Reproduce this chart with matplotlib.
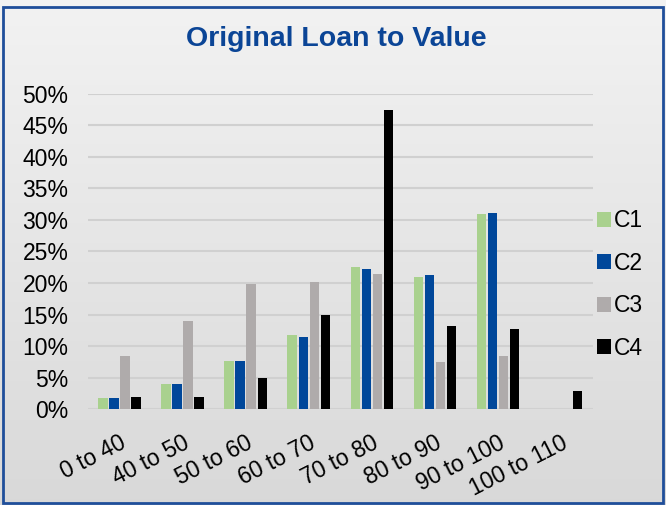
import numpy as np
import matplotlib.pyplot as plt
from matplotlib.patches import Rectangle
from matplotlib.ticker import PercentFormatter

plt.rcParams['font.family'] = ['Liberation Sans', 'DejaVu Sans']

categories = ["0 to 40", "40 to 50", "50 to 60", "60 to 70",
              "70 to 80", "80 to 90", "90 to 100", "100 to 110"]
series = ["C1", "C2", "C3", "C4"]
c1 = [1.8, 3.9, 7.6, 11.7, 22.6, 20.9, 30.9, 0.0]
c2 = [1.8, 3.9, 7.6, 11.5, 22.3, 21.2, 31.1, 0.0]
c3 = [8.4, 13.9, 19.9, 20.2, 21.4, 7.4, 8.4, 0.0]
c4 = [1.9, 1.9, 4.9, 14.9, 47.4, 13.1, 12.7, 2.8]
colors = ["#a9d18e", "#00479a", "#afabab", "#000000"]

fig = plt.figure(figsize=(6.66, 5.05), dpi=100)

# gradient background
bg = fig.add_axes([0, 0, 1, 1], zorder=-10)
grad = np.linspace(0.95, 0.85, 256).reshape(-1, 1)
bg.imshow(np.dstack([grad, grad, grad]), aspect="auto", extent=[0, 1, 0, 1])
bg.set_axis_off()
fig.patches.append(Rectangle((0.004, 0.004), 0.992, 0.982, transform=fig.transFigure,
                             fill=False, edgecolor="#1f4e9a", linewidth=2))

ax = fig.add_axes([0.132, 0.190, 0.758, 0.624])
ax.patch.set_alpha(0)
x = np.arange(len(categories))
width = 0.15
step = 0.175
for i, (vals, name) in enumerate(zip([c1, c2, c3, c4], series)):
    ax.bar(x + (i - 1.5) * step, np.array(vals) / 100, width, color=colors[i],
           label=name, zorder=3)

ax.set_xlim(-0.5, len(categories) - 0.5)
ax.set_ylim(0, 0.5)
ax.set_yticks(np.arange(0, 0.51, 0.05))
ax.yaxis.set_major_formatter(PercentFormatter(1.0, decimals=0))
ax.grid(axis="y", color="#d0d0d0", linewidth=1.5, zorder=0)
for s in ax.spines.values():
    s.set_visible(False)
ax.tick_params(axis="y", length=0, pad=14, labelsize=16.5)
ax.tick_params(axis="x", length=0, pad=16, labelsize=16.5)
ax.set_xticks(x)
ax.set_xticklabels(categories, rotation=27, ha="right", va="top",
                   rotation_mode="anchor")

ax.legend(loc="center left", bbox_to_anchor=(0.99, 0.395), frameon=False,
          fontsize=16.5, handlelength=0.6, handleheight=0.6, handletextpad=0.15,
          labelspacing=0.85, borderaxespad=0)

fig.text(0.505, 0.922, "Original Loan to Value", ha="center", va="center",
         fontsize=20.5, fontweight="bold", color="#0b4596")

fig.savefig("out.png", dpi=100)
